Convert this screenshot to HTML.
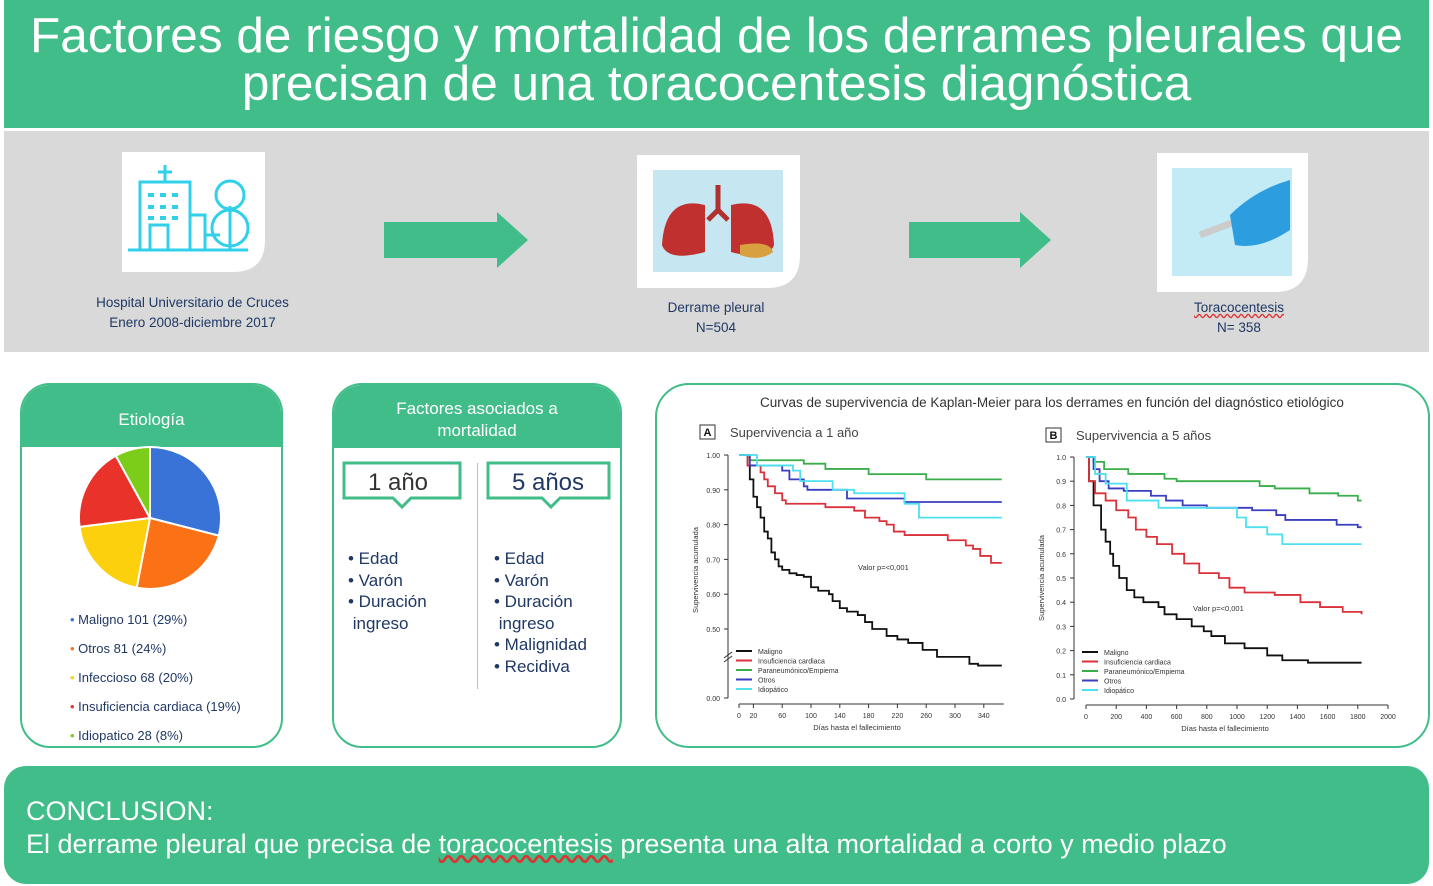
<!DOCTYPE html>
<html><head><meta charset="utf-8"><style>
body{margin:0;width:1433px;height:886px;overflow:hidden;background:#fff;font-family:"Liberation Sans",sans-serif;position:relative}
.a{position:absolute}
.t{color:#1f3864;font-size:13.5px;text-align:center}
</style></head><body>
<div class="a" style="left:4px;top:0;width:1425px;height:128px;background:#40bd88"></div>
<div class="a" style="left:4px;top:12px;width:1425px;text-align:center;color:#fff;font-size:49.5px;line-height:48px">Factores de riesgo y mortalidad de los derrames pleurales que<br>precisan de una toracocentesis diagnóstica</div>
<div class="a" style="left:4px;top:131px;width:1425px;height:221px;background:#d9d9d9"></div>

<svg class="a" style="left:0;top:0" width="1433" height="886">
 <g>
  <path d="M122 152 H265 V240 Q265 272 233 272 H122 Z" fill="#fff"/>
  <g fill="none" stroke="#2fd0e8" stroke-width="3">
   <rect x="140" y="182" width="50" height="68"/><path d="M158 172h14M165 165v17M128 250h120"/>
   <rect x="150" y="225" width="18" height="25"/><circle cx="230" cy="195" r="14"/><circle cx="230" cy="228" r="18"/><path d="M230 206v44M190 215h15v35M205 235h15"/>
  </g>
  <g fill="#2fd0e8"><rect x="148" y="193" width="6" height="4"/><rect x="160" y="193" width="6" height="4"/><rect x="172" y="193" width="6" height="4"/><rect x="148" y="205" width="6" height="4"/><rect x="160" y="205" width="6" height="4"/><rect x="172" y="205" width="6" height="4"/><rect x="148" y="216" width="6" height="4"/><rect x="160" y="216" width="6" height="4"/><rect x="172" y="216" width="6" height="4"/></g>
 </g>
 <polygon points="384,222 497,222 497,212 528,240 497,268 497,258 384,258" fill="#40bd88"/>
 <polygon points="909,222 1020,222 1020,212 1051,240 1020,268 1020,258 909,258" fill="#40bd88"/>
 <g>
  <path d="M637 155 H800 V255 Q800 288 767 288 H637 Z" fill="#fff"/>
  <rect x="653" y="170" width="130" height="102" fill="#c6e6f1"/>
  <path d="M718 185v25M718 210l-10 10M718 210l10 10" stroke="#b03030" stroke-width="5" fill="none"/>
  <path d="M705 205 Q665 195 662 245 Q668 262 705 252 Z" fill="#c0302f"/>
  <path d="M731 205 Q772 195 774 245 Q768 262 731 252 Z" fill="#c0302f"/>
  <path d="M740 245 Q770 240 773 252 Q760 262 740 255Z" fill="#d9a040"/>
 </g>
 <g>
  <path d="M1157 153 H1308 V258 Q1308 292 1275 292 H1157 Z" fill="#fff"/>
  <rect x="1172" y="168" width="120" height="108" fill="#c2ebf6"/>
  <path d="M1200 235 L1245 218" stroke="#ccc" stroke-width="7"/>
  <path d="M1230 215 Q1255 190 1290 180 V230 Q1260 250 1235 245 Z" fill="#2c9ee0"/>
 </g>
</svg>
<div class="a t" style="left:60px;top:293px;width:265px;line-height:20px">Hospital Universitario de Cruces<br>Enero 2008-diciembre 2017</div>
<div class="a t" style="left:600px;top:298px;width:232px;line-height:20px">Derrame pleural<br>N=504</div>
<div class="a t" style="left:1123px;top:298px;width:232px;line-height:20px"><span style="text-decoration:underline wavy #d33">Toracocentesis</span><br>N= 358</div>

<div class="a" style="left:20px;top:383px;width:259px;height:361px;border:2px solid #40bd88;border-radius:30px;overflow:hidden">
 <div style="background:#40bd88;height:62px;color:#fff;font-size:17px;text-align:center;line-height:70px">Etiología</div>
</div>
<svg class="a" style="left:0;top:0" width="300" height="760" id="pie"></svg>
<div class="a" style="left:70px;top:605px;font-size:13px;color:#1f3864;line-height:29px" id="leg"></div>

<div class="a" style="left:332px;top:383px;width:286px;height:361px;border:2px solid #40bd88;border-radius:30px;overflow:hidden">
 <div style="background:#40bd88;height:63px;color:#fff;font-size:17px;text-align:center;line-height:22px;padding-top:13px;box-sizing:border-box">Factores asociados a<br>mortalidad</div>
</div>
<div class="a" style="left:477px;top:463px;width:1px;height:226px;background:#9cc"></div>
<svg class="a" style="left:0;top:0" width="640" height="760">
 <g fill="#fff" stroke="#40bd88" stroke-width="3">
  <path d="M344 463h116v35h-49l-9 9 -9 -9h-49z"/>
  <path d="M488 463h121v35h-49l-9 9 -9 -9h-54z"/>
 </g>
 <text x="398" y="490" font-size="24" text-anchor="middle" fill="#333" font-family="Liberation Sans">1 año</text>
 <text x="548" y="490" font-size="24" text-anchor="middle" fill="#1f3864" font-family="Liberation Sans">5 años</text>
</svg>
<div class="a" style="left:348px;top:548px;font-size:17px;color:#1f3864;line-height:21.5px">•&nbsp;Edad<br>•&nbsp;Varón<br>•&nbsp;Duración<br>&nbsp;ingreso</div>
<div class="a" style="left:494px;top:548px;font-size:17px;color:#1f3864;line-height:21.5px">•&nbsp;Edad<br>•&nbsp;Varón<br>•&nbsp;Duración<br>&nbsp;ingreso<br>•&nbsp;Malignidad<br>•&nbsp;Recidiva</div>

<div class="a" style="left:655px;top:383px;width:771px;height:361px;border:2px solid #40bd88;border-radius:34px"></div>
<div class="a" style="left:760px;top:395px;width:700px;font-size:13.5px;color:#333;white-space:nowrap">Curvas de supervivencia de Kaplan-Meier para los derrames en función del diagnóstico etiológico</div>
<svg class="a" style="left:0;top:0" width="1433" height="886" id="km" font-family="Liberation Sans"></svg>

<div class="a" style="left:4px;top:766px;width:1425px;height:118px;background:#40bd88;border-radius:22px"></div>
<div class="a" style="left:26px;top:795px;color:#fff;font-size:27px;line-height:33px;white-space:nowrap">CONCLUSION:<br>El derrame pleural que precisa de <span style="text-decoration:underline wavy #d33">toracocentesis</span> presenta una alta mortalidad a corto y medio plazo</div>

<script>
const pieLabels=["Maligno 101 (29%)","Otros 81 (24%)","Infeccioso 68 (20%)","Insuficiencia cardiaca (19%)","Idiopatico 28 (8%)"];
const pieValues=[29,24,20,19,8];
const pieColors=["#3a73d8","#fb7116","#fcd00c","#e8322a","#7ccc1a"];

const kmNames=["Maligno","Insuficiencia cardiaca","Paraneumónico/Empiema","Otros","Idiopático"];
const kmColors=["#111","#d9323a","#3aae4a","#3a3ec0","#4ee0f0"];
const aMalDays=[0,10,12,15,20,25,30,35,40,45,50,55,60,70,80,90,100,110,125,130,140,150,165,175,185,205,220,235,255,275,320,332,365];
const aMalVals=[1,1,0.97,0.93,0.88,0.85,0.82,0.78,0.76,0.72,0.70,0.68,0.67,0.66,0.655,0.65,0.62,0.61,0.60,0.58,0.56,0.55,0.54,0.52,0.50,0.48,0.47,0.46,0.44,0.42,0.40,0.395,0.395];
const aInsDays=[0,12,30,35,40,50,60,65,75,120,160,175,195,205,215,230,290,315,325,335,350,365];
const aInsVals=[1,0.97,0.95,0.93,0.91,0.89,0.87,0.86,0.86,0.85,0.84,0.82,0.81,0.80,0.78,0.77,0.755,0.74,0.73,0.71,0.69,0.69];
const aParDays=[0,15,90,120,180,260,365];
const aParVals=[1,0.985,0.975,0.96,0.945,0.93,0.93];
const aOtrDays=[0,15,60,70,90,95,150,230,365];
const aOtrVals=[1,0.97,0.955,0.93,0.91,0.90,0.875,0.865,0.865];
const aIdiDays=[0,25,75,85,130,160,230,250,365];
const aIdiVals=[1,0.97,0.955,0.925,0.90,0.89,0.86,0.82,0.82];
const aXTicks=[0,20,60,100,140,180,220,260,300,340];
const aYTicks=[1.00,0.90,0.80,0.70,0.60,0.50];

const bMalDays=[0,20,50,100,130,160,180,220,270,320,380,480,520,600,700,780,830,920,1050,1200,1300,1470,1825];
const bMalVals=[1,0.9,0.8,0.7,0.65,0.6,0.55,0.5,0.45,0.42,0.40,0.38,0.35,0.33,0.30,0.28,0.26,0.23,0.21,0.18,0.16,0.15,0.15];
const bInsDays=[0,20,60,130,200,280,330,400,470,570,650,750,880,950,1050,1250,1420,1550,1700,1825];
const bInsVals=[1,0.9,0.85,0.82,0.78,0.75,0.70,0.67,0.64,0.60,0.56,0.52,0.50,0.46,0.44,0.43,0.40,0.38,0.36,0.35];
const bParDays=[0,50,120,280,520,600,1150,1250,1480,1670,1800,1825];
const bParVals=[1,0.98,0.95,0.93,0.91,0.90,0.88,0.87,0.85,0.84,0.82,0.82];
const bOtrDays=[0,50,90,150,250,430,530,640,800,1100,1260,1320,1660,1800,1825];
const bOtrVals=[1,0.95,0.9,0.87,0.86,0.84,0.82,0.80,0.79,0.78,0.76,0.74,0.72,0.71,0.71];
const bIdiDays=[0,60,130,270,480,1000,1060,1200,1300,1825];
const bIdiVals=[1,0.93,0.89,0.82,0.79,0.75,0.71,0.68,0.64,0.64];
const bXTicks=[0,200,400,600,800,1000,1200,1400,1600,1800,2000];
const bYTicks=[1.0,0.9,0.8,0.7,0.6,0.5,0.4,0.3,0.2,0.1,0.0];

const NS="http://www.w3.org/2000/svg";
function mk(p,tag,at){const e=document.createElementNS(NS,tag);for(const k in at)e.setAttribute(k,at[k]);p.appendChild(e);return e;}

const pie=document.getElementById('pie');
const cx=150,cy=518,r=71;let tot=pieValues.reduce((a,b)=>a+b,0),ang=-Math.PI/2;
pieValues.forEach((v,i)=>{const a2=ang+v/tot*2*Math.PI;
 const x1=cx+r*Math.cos(ang),y1=cy+r*Math.sin(ang),x2=cx+r*Math.cos(a2),y2=cy+r*Math.sin(a2);
 const s=mk(pie,'path',{d:`M${cx} ${cy}L${x1} ${y1}A${r} ${r} 0 ${a2-ang>Math.PI?1:0} 1 ${x2} ${y2}Z`,fill:pieColors[i],stroke:'#fff','stroke-width':2});
 
 
 ang=a2;});
const leg=document.getElementById('leg');
pieLabels.forEach((l,i)=>{const d=document.createElement('div');
 
 
 d.innerHTML=`<span style="color:${pieColors[i]}">•</span> ${l}`;leg.appendChild(d);});

const km=document.getElementById('km');
function chart(o){
 const sx=d=>o.x0+d*o.kx, sy=v=>o.yTop+(o.vTop-v)*o.ky;
 mk(km,'line',{x1:o.axX,y1:sy(o.vTop),x2:o.axX,y2:o.yBot,stroke:'#333','stroke-width':1});
 o.yt.forEach(v=>{mk(km,'line',{x1:o.axX-4,y1:sy(v),x2:o.axX,y2:sy(v),stroke:'#333'});
  const t=mk(km,'text',{x:o.axX-8,y:sy(v)+3,'font-size':7,'text-anchor':'end',fill:'#333'});t.textContent=v.toFixed(o.dec);
  
  });
 if(o.zero){mk(km,'line',{x1:o.axX-4,y1:o.yBot,x2:o.axX,y2:o.yBot,stroke:'#333'});
  const t=mk(km,'text',{x:o.axX-8,y:o.yBot+3,'font-size':7,'text-anchor':'end',fill:'#333'});t.textContent='0.00';
  mk(km,'path',{d:`M${o.axX-4} ${o.yBot-40}l8 -6M${o.axX-4} ${o.yBot-36}l8 -6`,stroke:'#333',fill:'none'});}
 const bx=o.yBot+6;
 mk(km,'line',{x1:sx(o.xt[0]),y1:bx,x2:sx(o.xt[o.xt.length-1])+o.xExt,y2:bx,stroke:'#333'});
 o.xt.forEach(d=>{mk(km,'line',{x1:sx(d),y1:bx,x2:sx(d),y2:bx+4,stroke:'#333'});
  const t=mk(km,'text',{x:sx(d),y:bx+14,'font-size':7,'text-anchor':'middle',fill:'#333'});t.textContent=d;
  
  });
 const xl=mk(km,'text',{x:o.xlX,y:bx+26,'font-size':7.5,'text-anchor':'middle',fill:'#333'});xl.textContent='Días hasta el fallecimiento';
 const yl=mk(km,'text',{x:0,y:0,'font-size':7.5,'text-anchor':'middle',fill:'#333',transform:`translate(${o.axX-30},${o.ylY}) rotate(-90)`});yl.textContent='Supervivencia acumulada';
 o.series.forEach((s,i)=>{let d=`M${sx(s[0][0])} ${sy(s[1][0])}`;
  for(let k=1;k<s[0].length;k++){d+=`H${sx(s[0][k])}V${sy(s[1][k])}`;}
  const p=mk(km,'path',{d,stroke:kmColors[i],'stroke-width':1.8,fill:'none'});
  
  });
 kmNames.forEach((n,i)=>{const y=o.legY+i*9.5;mk(km,'line',{x1:o.legX,y1:y,x2:o.legX+16,y2:y,stroke:kmColors[i],'stroke-width':2});
  const t=mk(km,'text',{x:o.legX+22,y:y+3,'font-size':7,fill:'#333'});t.textContent=n;
  
  });
 const pv=mk(km,'text',{x:o.pX,y:o.pY,'font-size':7.5,fill:'#333'});pv.textContent='Valor p=<0,001';
 mk(km,'rect',{x:o.bxX,y:o.bxY,width:15,height:14,fill:'#fff',stroke:'#333'});
 const L=mk(km,'text',{x:o.bxX+7.5,y:o.bxY+11,'font-size':11,'font-weight':'bold','text-anchor':'middle',fill:'#111'});L.textContent=o.letter;
 const tt=mk(km,'text',{x:o.bxX+30,y:o.bxY+12,'font-size':13,fill:'#444'});tt.textContent=o.title;
}
chart({x0:739,kx:0.72,yTop:455,vTop:1,ky:348,axX:728,yBot:698,dec:2,zero:true,xt:aXTicks,yt:aYTicks,xExt:20,xlX:857,ylY:570,
 series:[[aMalDays,aMalVals],[aInsDays,aInsVals],[aParDays,aParVals],[aOtrDays,aOtrVals],[aIdiDays,aIdiVals]],
 legX:736,legY:651,pX:858,pY:570,bxX:700,bxY:425,letter:'A',title:'Supervivencia a 1 año'});
chart({x0:1086,kx:0.151,yTop:457,vTop:1,ky:242,axX:1074,yBot:699,dec:1,zero:false,xt:bXTicks,yt:bYTicks,xExt:0,xlX:1225,ylY:578,
 series:[[bMalDays,bMalVals],[bInsDays,bInsVals],[bParDays,bParVals],[bOtrDays,bOtrVals],[bIdiDays,bIdiVals]],
 legX:1082,legY:652,pX:1193,pY:611,bxX:1046,bxY:428,letter:'B',title:'Supervivencia a 5 años'});
</script>
</body></html>
